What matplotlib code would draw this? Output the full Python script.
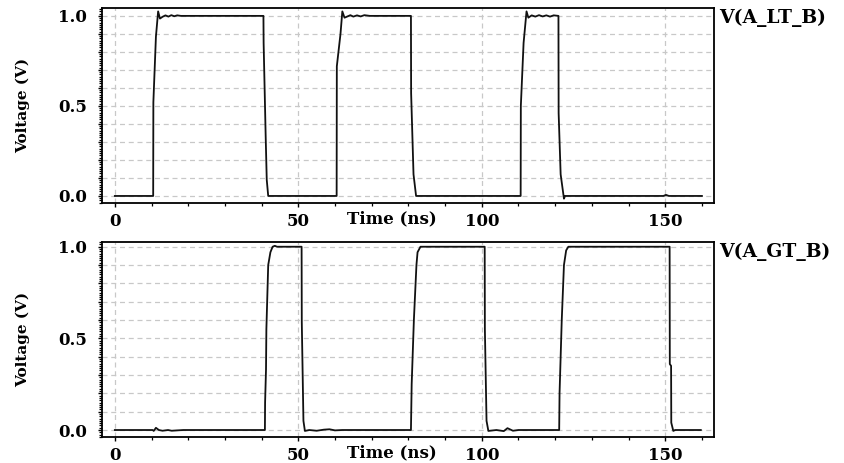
import numpy as np
import matplotlib.pyplot as plt
from matplotlib.ticker import MultipleLocator, FuncFormatter

# Waveforms (time in ns, voltage in V)
lt_t = [0, 10.45, 10.5, 11.2, 11.8, 12.3, 13.0, 13.8, 14.6, 15.4, 16.2, 17.0,
        18.0, 19.5, 40.5, 40.55, 41.1, 41.4, 41.8,
        60.45, 60.5, 61.5, 62.0, 62.6, 63.4, 64.2, 65.0, 66.0, 67.0, 68.0, 69.5,
        80.7, 80.75, 81.4, 82.1,
        110.6, 110.65, 111.4, 112.2, 112.7, 113.6, 114.6, 115.6, 116.6, 117.6,
        118.6, 119.6, 120.9, 120.95, 121.5, 122.3, 122.4, 122.7,
        149.5, 150.2, 151.0, 160]
lt_v = [0, 0, 0.52, 0.885, 1.025, 0.985, 0.995, 1.003, 0.996, 1.004, 0.998,
        1.003, 1.0, 1.0, 1.0, 0.85, 0.34, 0.09, 0.0,
        0.0, 0.72, 0.9, 1.025, 0.99, 0.997, 1.004, 0.996, 1.003, 0.997, 1.004, 1.0,
        1.0, 0.57, 0.12, 0.0,
        0.0, 0.5, 0.85, 1.025, 0.99, 1.003, 0.996, 1.004, 0.997, 1.003,
        0.996, 1.003, 1.0, 0.46, 0.12, 0.0, -0.015, 0.0,
        0.0, 0.006, 0.0, 0.0]

gt_t = [0, 10.3, 10.6, 11.2, 12.0, 13.0, 14.5, 15.5, 17.0, 18.7,
        40.9, 40.95, 41.2, 41.3, 41.8, 42.4, 43.0, 43.6, 44.2,
        50.9, 50.95, 51.4, 51.8, 53.0, 55.0, 57.0, 58.5, 60.0, 62.0,
        80.7, 80.9, 81.5, 82.2, 82.5, 83.3,
        100.8, 100.85, 101.3, 101.8, 104.0, 106.0, 107.0, 108.5, 110.0, 112.0,
        121.1, 121.2, 121.8, 122.4, 123.0, 123.6,
        151.2, 151.25, 151.6, 151.65, 152.2, 152.7, 159.7]
gt_v = [0, 0, -0.005, 0.012, 0.0, -0.004, 0.0, -0.004, -0.002, 0.0,
        0.0, 0.15, 0.33, 0.55, 0.9, 0.97, 1.0, 1.005, 1.0,
        1.0, 0.59, 0.05, -0.005, 0.0, -0.004, 0.002, 0.004, -0.002, 0.0,
        0.0, 0.25, 0.6, 0.9, 0.97, 1.0,
        1.0, 0.55, 0.05, -0.005, 0.0, -0.006, 0.01, -0.004, 0.0, 0.0,
        0.0, 0.2, 0.6, 0.9, 0.98, 1.0,
        1.0, 0.36, 0.35, 0.04, -0.005, 0.0, 0.0]

signals = [("V(A_LT_B)", lt_t, lt_v), ("V(A_GT_B)", gt_t, gt_v)]

plt.rcParams["font.family"] = ["DejaVu Serif"]
plt.rcParams["font.weight"] = "bold"

fig = plt.figure(figsize=(8.45, 4.63), dpi=100)
ax_rects = [[0.1207, 0.5616, 0.7243, 0.4212],
            [0.1207, 0.0562, 0.7243, 0.4212]]
ylims = [(-0.039, 1.044), (-0.038, 1.026)]

for rect, ylim, (name, t, v) in zip(ax_rects, ylims, signals):
    ax = fig.add_axes(rect)
    ax.plot(t, v, color="#111111", lw=1.3)
    ax.set_xlim(-3.5, 163.3)
    ax.set_ylim(*ylim)

    ax.xaxis.set_major_locator(MultipleLocator(50))
    ax.xaxis.set_minor_locator(MultipleLocator(10))
    ax.yaxis.set_major_locator(MultipleLocator(0.1))
    ax.yaxis.set_minor_locator(MultipleLocator(0.0125))
    ax.yaxis.set_major_formatter(FuncFormatter(
        lambda y, p: f"{y:.1f}" if abs(y * 2 - round(y * 2)) < 1e-6 else ""))

    ax.grid(True, which="major", color="#c8c8c8", ls=(0, (4, 3)), lw=0.9)
    ax.tick_params(axis="both", which="major", labelsize=12, length=3,
                   width=1, color="black")
    ax.tick_params(axis="y", which="major", pad=8)
    ax.tick_params(axis="x", which="major", pad=4)
    ax.tick_params(axis="both", which="minor", length=2.5, width=0.9)
    for lab in ax.get_xticklabels() + ax.get_yticklabels():
        lab.set_fontweight("bold")
    for sp in ax.spines.values():
        sp.set_linewidth(1.3)

    ax.set_ylabel("Voltage (V)", fontsize=11, fontweight="bold")
    ax.yaxis.set_label_coords(-0.117, 0.5)
    ax.text(75.5, -0.125, "Time (ns)", ha="center", va="center",
            fontsize=12, fontweight="bold", transform=ax.transData)
    ax.text(1.008, 0.995, name, transform=ax.transAxes,
            ha="left", va="top", fontsize=13.5, fontweight="bold")

fig.savefig("out.png", dpi=100)
